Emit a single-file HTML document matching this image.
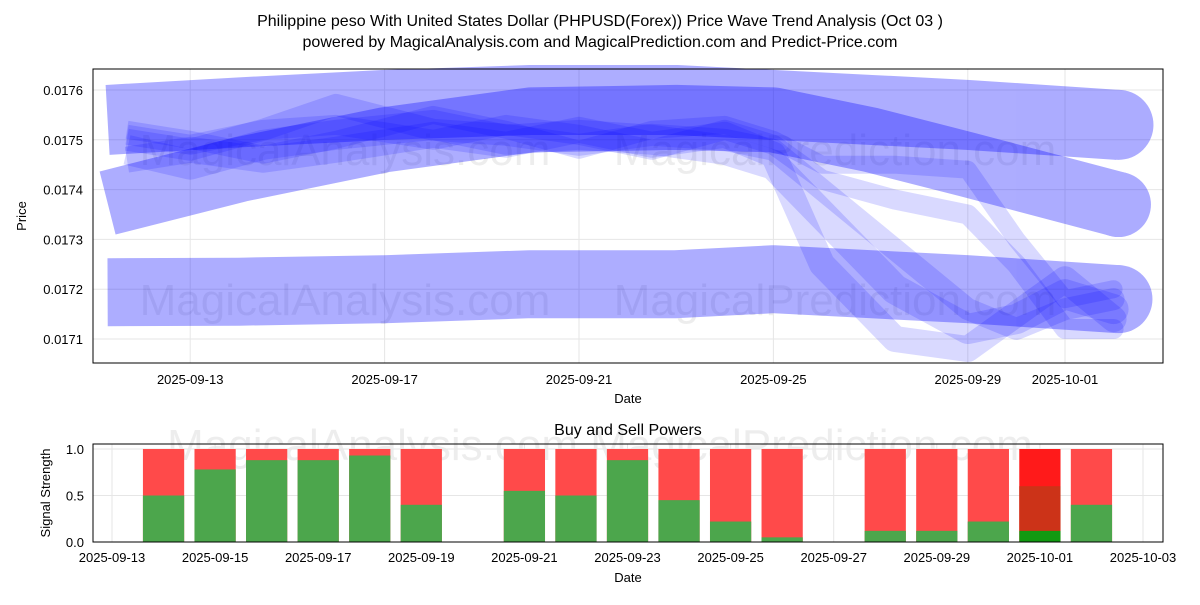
<!DOCTYPE html>
<html><head><meta charset="utf-8"><style>
body{margin:0;background:#fff;font-family:"Liberation Sans",sans-serif}
svg text{font-family:"Liberation Sans",sans-serif}
</style></head><body>
<svg id="c" width="1200" height="600" xmlns="http://www.w3.org/2000/svg">
<text x="600" y="26" text-anchor="middle" font-size="16">Philippine peso With United States Dollar (PHPUSD(Forex)) Price Wave Trend Analysis (Oct 03 )</text>
<text x="600" y="47" text-anchor="middle" font-size="16">powered by MagicalAnalysis.com and MagicalPrediction.com and Predict-Price.com</text>
<g id="topg"></g>
<g id="botg"></g>
</svg>
<script>
// top chart data (day offset from 2025-09-11, price)
const bandDays=[0.3,3,6,9,12,14,16,18,21.1];
const band1=[0.017540,0.017555,0.01757,0.01758,0.01758,0.01757,0.01756,0.01755,0.01753];
const band2=[0.017373,0.01744,0.01750,0.01754,0.017545,0.01754,0.01750,0.01745,0.01737];
const band3=[0.017194,0.017195,0.01720,0.01721,0.01721,0.01722,0.01721,0.01720,0.01718];
const thinDays=[0.7,2,3.5,5,7,8.5,10,11.5,13,14,15,16.5,18,19,20,21];
const thin1=[0.01750,0.01748,0.01752,0.01757,0.01752,0.01751,0.01749,0.01751,0.01750,0.01748,0.01740,0.01728,0.01716,0.01712,0.01716,0.01718];
const thin2=[0.01748,0.01745,0.01749,0.01751,0.01753,0.01750,0.01751,0.01750,0.01748,0.01745,0.01735,0.01720,0.01712,0.01714,0.01719,0.01716];
const thin3=[0.01752,0.01750,0.01747,0.01750,0.01755,0.01752,0.01748,0.01752,0.01753,0.01750,0.01745,0.01745,0.01744,0.01730,0.01718,0.01720];
const thin4=[0.01746,0.01748,0.01746,0.01748,0.01751,0.01749,0.01752,0.01749,0.01751,0.01747,0.01725,0.01710,0.01708,0.01715,0.01722,0.01714];
const thin5=[0.01751,0.01749,0.01752,0.01753,0.01750,0.01753,0.01751,0.01748,0.01752,0.01749,0.01742,0.01738,0.01735,0.01725,0.01712,0.01712];
const yTicks=[0.0171,0.0172,0.0173,0.0174,0.0175,0.0176];
const xTickDays=[2,6,10,14,18,20];
const xTickLabels=["2025-09-13","2025-09-17","2025-09-21","2025-09-25","2025-09-29","2025-10-01"];
// bottom chart data
const barDays=[1,2,3,4,5,6,8,9,10,11,12,13,15,16,17,18,19];
const buyVals=[0.5,0.78,0.88,0.88,0.93,0.4,0.55,0.5,0.88,0.45,0.22,0.05,0.12,0.12,0.22,0.12,0.4];
const midVals=[0,0,0,0,0,0,0,0,0,0,0,0,0,0,0,0.6,0];
const bTickDays=[0,2,4,6,8,10,12,14,16,18,20];
const bTickLabels=["2025-09-13","2025-09-15","2025-09-17","2025-09-19","2025-09-21","2025-09-23","2025-09-25","2025-09-27","2025-09-29","2025-10-01","2025-10-03"];

const NS="http://www.w3.org/2000/svg";
function mk(p,t,a){const e=document.createElementNS(NS,t);for(const k in a)e.setAttribute(k,a[k]);p.appendChild(e);return e;}
const topG=document.getElementById('topg'),botG=document.getElementById('botg');
const X=d=>93+d*48.6, Y=v=>90+(0.0176-v)/0.0001*49.8;
const X2=d=>112+d*51.55, Y2=v=>542-v*93;

for(const v of yTicks){const g=mk(topG,'line',{x1:93,x2:1163,y1:Y(v),y2:Y(v),stroke:'#e6e6e6'});

const t=mk(topG,'text',{x:83,y:Y(v)+5,'text-anchor':'end','font-size':13});t.textContent=v.toFixed(4);
}
xTickDays.forEach((d,i)=>{const g=mk(topG,'line',{x1:X(d),x2:X(d),y1:69,y2:363,stroke:'#e6e6e6'});

const t=mk(topG,'text',{x:X(d),y:384,'text-anchor':'middle','font-size':13});t.textContent=xTickLabels[i];
});
[[345,150],[835,150],[345,300],[835,300]].forEach((p,i)=>{const t=mk(topG,'text',{x:p[0],y:p[1]+15,'text-anchor':'middle','font-size':44,fill:'#000','fill-opacity':0.07});
t.textContent=i%2?'MagicalPrediction.com':'MagicalAnalysis.com';});

function path(days,vals){return days.map((d,i)=>(i?'L':'M')+X(d).toFixed(1)+','+Y(vals[i]).toFixed(1)).join(' ');}
function wave(days,vals,w,op,name){const g=mk(topG,'g',{opacity:op});

const p=mk(g,'path',{d:path(days,vals),fill:'none',stroke:'#0000ff','stroke-width':w,'stroke-linejoin':'round'});

const c=mk(g,'circle',{cx:X(days[days.length-1]),cy:Y(vals[vals.length-1]),r:w/2,fill:'#0000ff'});
}
wave(bandDays,band1,70,0.32,'wave-band');wave(bandDays,band2,65,0.32,'wave-band');wave(bandDays,band3,68,0.32,'wave-band');
[thin1,thin2,thin3,thin4,thin5].forEach((s,i)=>{wave(thinDays,s,[22,30,18,26,20][i],0.15,'wave-line');});
const f=mk(topG,'rect',{x:93,y:69,width:1070,height:294,fill:'none',stroke:'#000'});

let t=mk(topG,'text',{x:628,y:403,'text-anchor':'middle','font-size':13});t.textContent='Date';

t=mk(topG,'text',{x:26,y:216,'text-anchor':'middle','font-size':13,transform:'rotate(-90 26 216)'});t.textContent='Price';


t=mk(botG,'text',{x:628,y:435,'text-anchor':'middle','font-size':16});t.textContent='Buy and Sell Powers';

t=mk(botG,'text',{x:600,y:460,'text-anchor':'middle','font-size':44,'fill-opacity':0.07});t.textContent='MagicalAnalysis.com   MagicalPrediction.com';

[0,0.5,1].forEach(v=>{const g=mk(botG,'line',{x1:93,x2:1163,y1:Y2(v),y2:Y2(v),stroke:'#e6e6e6'});

const tt=mk(botG,'text',{x:84,y:Y2(v)+5,'text-anchor':'end','font-size':13});tt.textContent=v.toFixed(1);
});
bTickDays.forEach((d,i)=>{const g=mk(botG,'line',{x1:X2(d),x2:X2(d),y1:444,y2:542,stroke:'#e6e6e6'});

const tt=mk(botG,'text',{x:X2(d),y:562,'text-anchor':'middle','font-size':13});tt.textContent=bTickLabels[i];
});
const bw=0.8*51.55;
barDays.forEach((d,i)=>{const x=X2(d)-bw/2,b=buyVals[i],m=midVals[i];
const sr=mk(botG,'rect',{x:x,y:Y2(1),width:bw,height:Y2(0)-Y2(1),fill:m?'#ff1a1a':'#ff4a4a'});

if(m){const mr=mk(botG,'rect',{x:x,y:Y2(m),width:bw,height:Y2(b)-Y2(m),fill:'#cc3318'});
}
const br=mk(botG,'rect',{x:x,y:Y2(b),width:bw,height:Y2(0)-Y2(b),fill:m?'#119911':'#4ca64c'});
});
const f2=mk(botG,'rect',{x:93,y:444,width:1070,height:98,fill:'none',stroke:'#000'});

t=mk(botG,'text',{x:628,y:582,'text-anchor':'middle','font-size':13});t.textContent='Date';

t=mk(botG,'text',{x:50,y:493,'text-anchor':'middle','font-size':13,transform:'rotate(-90 50 493)'});t.textContent='Signal Strength';

</script>
</body></html>
